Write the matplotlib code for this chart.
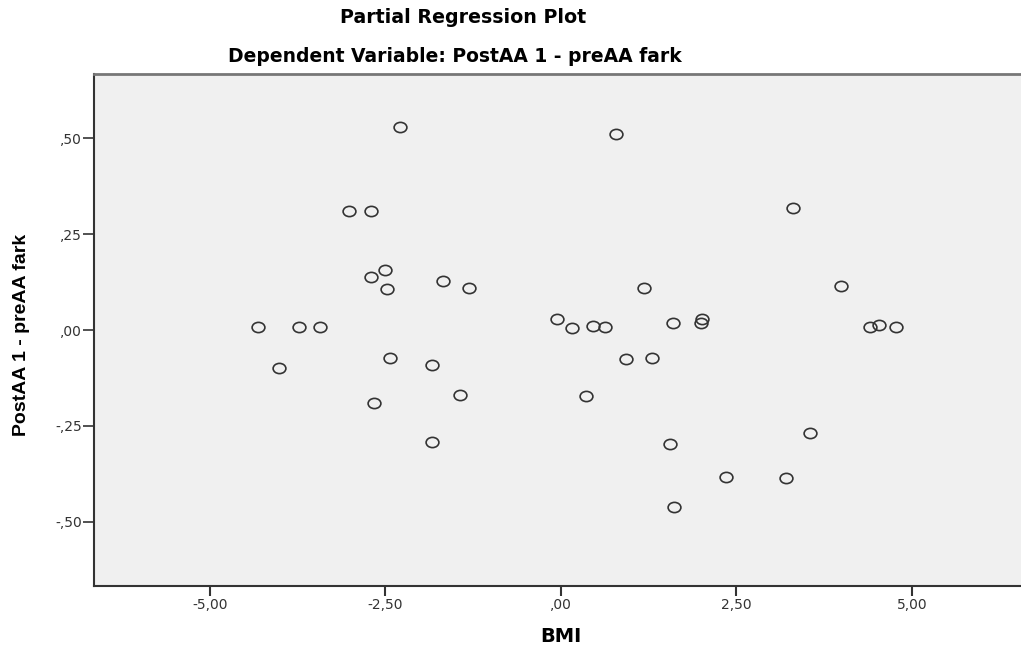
import matplotlib
matplotlib.use("Agg")
import matplotlib.pyplot as plt
from matplotlib.path import Path
import numpy as np

# ---- data ----
bmi = [-2.29, -3.02, -2.70, -2.50, -2.71, -2.48, -1.68, -1.31, -4.32, -3.73, -3.43,
       -4.02, -2.43, -1.84, -2.67, -1.44, -1.84,
       0.78, 3.30, 1.18, 3.99,
       -0.05, 0.15, 0.45, 0.62, 1.60, 1.99, 2.01, 4.40, 4.53, 4.77,
       0.93, 1.30, 0.36, 3.55, 1.56, 2.35, 3.21, 1.61]
resid = [0.530, 0.310, 0.310, 0.157, 0.139, 0.107, 0.128, 0.110, 0.007, 0.007, 0.007,
         -0.099, -0.072, -0.090, -0.190, -0.170, -0.293,
         0.511, 0.317, 0.110, 0.116,
         0.028, 0.004, 0.010, 0.009, 0.019, 0.019, 0.029, 0.009, 0.014, 0.008,
         -0.075, -0.072, -0.172, -0.269, -0.298, -0.384, -0.387, -0.461]

x_ticks = [-5.0, -2.5, 0.0, 2.5, 5.0]
x_tick_labels = ["-5,00", "-2,50", ",00", "2,50", "5,00"]
y_ticks = [-0.5, -0.25, 0.0, 0.25, 0.5]
y_tick_labels = ["-,50", "-,25", ",00", ",25", ",50"]

title1 = "Partial Regression Plot"
title2 = "Dependent Variable: PostAA 1 - preAA fark"
x_label = "BMI"
y_label = "PostAA 1 - preAA fark"

# ---- figure ----
W, H = 1021, 652
fig = plt.figure(figsize=(W / 100, H / 100), dpi=100)
ax = fig.add_axes([94.3 / W, 1 - 585.7 / H, 1 - 94.3 / W, (585.7 - 74.3) / H])
ax.set_facecolor("#f0f0f0")

# slightly flattened circle marker (reference is horizontally stretched)
circ = Path.unit_circle()
ell = Path(circ.vertices * np.array([1.0, 0.8]), circ.codes)

ax.plot(bmi, resid, linestyle="none", marker=ell, markersize=9.2,
        markerfacecolor="none", markeredgecolor="#333333", markeredgewidth=1.2)

ax.set_xlim(-6.648, 6.553)
ax.set_ylim(-0.667, 0.667)
ax.set_xticks(x_ticks)
ax.set_xticklabels(x_tick_labels)
ax.set_yticks(y_ticks)
ax.set_yticklabels(y_tick_labels)

ax.tick_params(axis="x", length=7, width=1.5, color="#333333", pad=2,
               labelsize=10, labelcolor="#333333")
ax.tick_params(axis="y", length=8, width=1.2, color="#333333", pad=1,
               labelsize=10, labelcolor="#333333")

for side in ("left", "bottom"):
    ax.spines[side].set_color("#333333")
    ax.spines[side].set_linewidth(1.5)
ax.spines["top"].set_color("#777777")
ax.spines["top"].set_linewidth(2.0)
ax.spines["right"].set_visible(False)

# labels
fig.text(561 / W, 1 - 637 / H, x_label, ha="center", va="center",
         fontsize=14, fontweight="bold", family="DejaVu Sans")
fig.text(22 / W, 1 - 335 / H, y_label, ha="center", va="center", rotation=90,
         fontsize=14, fontweight="bold", family="Liberation Sans")

fig.text(463 / W, 1 - 23 / H, title1, ha="center", va="baseline",
         fontsize=13.7, fontweight="bold", family="DejaVu Sans")
fig.text(455 / W, 1 - 62 / H, title2, ha="center", va="baseline",
         fontsize=13.5, fontweight="bold", family="DejaVu Sans")

fig.savefig("out.png", dpi=100)
